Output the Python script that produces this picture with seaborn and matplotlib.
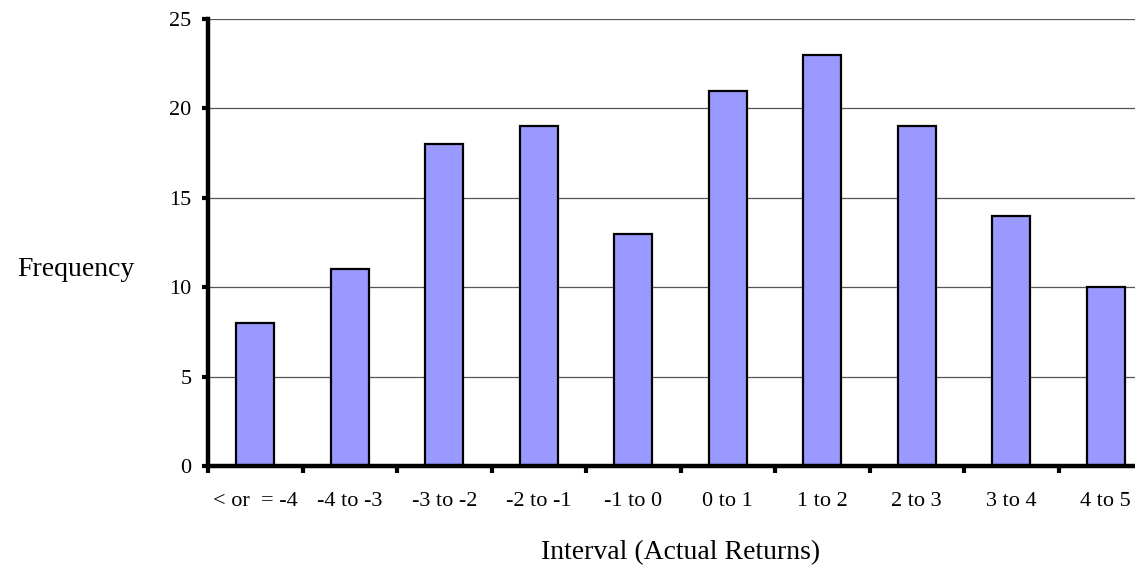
import matplotlib
matplotlib.use("Agg")
import matplotlib.pyplot as plt
import seaborn as sns
import pandas as pd
import numpy as np

intervals = ["< or  = -4", "-4 to -3", "-3 to -2", "-2 to -1", "-1 to 0",
             "0 to 1", "1 to 2", "2 to 3", "3 to 4", "4 to 5"]
frequency = [8, 11, 18, 19, 13, 21, 23, 19, 14, 10]
y_ticks = [0, 5, 10, 15, 20, 25]

sns.set_style("white", {"text.color": "black", "axes.labelcolor": "black",
                        "xtick.color": "black", "ytick.color": "black"})
plt.rcParams["font.family"] = ["Liberation Serif", "DejaVu Serif"]

df = pd.DataFrame({"Interval": intervals, "Frequency": frequency})

fig = plt.figure(figsize=(11.35, 5.69), dpi=100)
ax = fig.add_axes([208 / 1135, 1 - 466 / 569, 945 / 1135, (466 - 19) / 569])

ax.yaxis.grid(True, color="#555555", linewidth=0.9)
ax.set_axisbelow(True)

sns.barplot(data=df, x="Interval", y="Frequency", color="#9999FF",
            saturation=1, width=0.4, edgecolor="black", linewidth=1.6, ax=ax)

ax.set_xlim(-0.5, len(intervals) - 0.5)
ax.set_ylim(0, 25)
ax.set_yticks(y_ticks)

for side in ["top", "right"]:
    ax.spines[side].set_visible(False)
for side in ["left", "bottom"]:
    ax.spines[side].set_linewidth(3.2)
    ax.spines[side].set_color("black")

ax.tick_params(axis="y", which="major", left=True, length=4, width=3,
               color="black", labelcolor="black", labelsize=16, pad=8)
ax.tick_params(axis="x", which="major", bottom=False, labelcolor="black",
               labelsize=16, pad=15)
ax.set_xticks(np.arange(-0.5, len(intervals), 1.0), minor=True)
ax.tick_params(axis="x", which="minor", bottom=True, length=5, width=3,
               color="black")

ax.set_xlabel("Interval (Actual Returns)", fontsize=20, labelpad=21,
              color="black")
ax.set_ylabel("Frequency", fontsize=20, rotation=0, ha="center", va="center",
              color="black")
ax.yaxis.set_label_coords(-0.1397, 0.4385)

fig.savefig("out.png", dpi=100)
